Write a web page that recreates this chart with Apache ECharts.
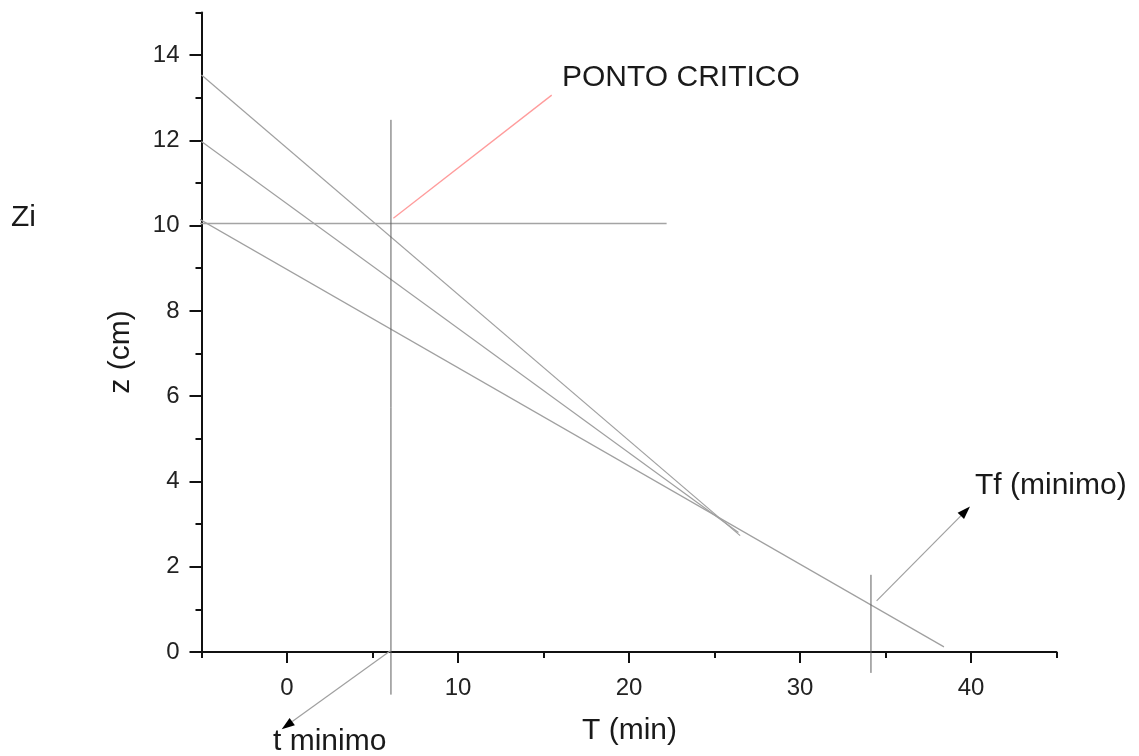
<!DOCTYPE html>
<html><head><meta charset="utf-8">
<script src="https://cdn.jsdelivr.net/npm/echarts@6/dist/echarts.min.js"></script>
<style>html,body{margin:0;padding:0;background:#fff}#c{width:1139px;height:756px}</style>
</head><body><div id="c"></div>
<script>
// tick values
const xMajorTicks = [0, 10, 20, 30, 40];
const xMinorTicks = [-5, 5, 15, 25, 35, 45];
const yMajorTicks = [0, 2, 4, 6, 8, 10, 12, 14];
const yMinorTicks = [1, 3, 5, 7, 9, 11, 13, 15];

// straight lines (T in min, z in cm), start and end
const line1T = [-5, 26.5];     const line1Z = [13.53, 2.73];
const line2T = [-5, 26.4];     const line2Z = [11.97, 2.80];
const line3T = [-5.85, 38.42]; const line3Z = [10.32, 0.12];
const ziT = [-11.5, 22.2];     const ziZ = [10.05, 10.05];
const tMinT = [6.08, 6.08];    const tMinZ = [12.48, -1.0];
const tfT = [34.15, 34.15];    const tfZ = [1.81, -0.49];
const critT = [6.22, 15.48];   const critZ = [10.17, 13.06];

// arrows: [T start, z start, T end, z end]
const arrowTmin = [6.05, 0.03, -0.31, -1.81];
const arrowTf = [34.48, 1.20, 39.94, 3.41];

const FONT = "'Liberation Sans', Arial, sans-serif";
const pairs = (T, Z) => T.map((t, i) => [t, Z[i]]);
const seg = (T, Z, color, width) => ({
  type: 'line', data: pairs(T, Z), clip: false, showSymbol: false, silent: true,
  animation: false, lineStyle: { color: color, width: width }, z: 2
});

const chart = echarts.init(document.getElementById('c'), null, { renderer: 'canvas' });
const axisCommon = {
  type: 'value', splitLine: { show: false }
};
const txt = (s, x, y) => ({ type: 'text', x: x, y: y, style: { text: s, font: '30px ' + FONT, fill: '#1a1a1a', verticalAlign: 'middle' } });
chart.setOption({
  animation: false,
  backgroundColor: '#fff',
  grid: { left: 201.5, width: 855, top: 12.4, height: 639.6, containLabel: false, outerBoundsMode: 'none' },
  xAxis: [
    Object.assign({}, axisCommon, {
      min: -5, max: 45, position: 'bottom',
      axisLine: { show: true, onZero: false, lineStyle: { color: '#111', width: 2 } },
      axisTick: { show: true, customValues: xMajorTicks, length: 11, lineStyle: { color: '#111', width: 2 } },
      axisLabel: { show: true, customValues: xMajorTicks, margin: 24, fontSize: 24, color: '#222', fontFamily: FONT }
    }),
    Object.assign({}, axisCommon, {
      min: -5, max: 45, position: 'bottom',
      axisLine: { show: false, onZero: false },
      axisTick: { show: true, customValues: xMinorTicks, length: 6, lineStyle: { color: '#111', width: 2 } },
      axisLabel: { show: false }
    })
  ],
  yAxis: [
    Object.assign({}, axisCommon, {
      min: 0, max: 15, position: 'left',
      axisLine: { show: true, onZero: false, lineStyle: { color: '#111', width: 2 } },
      axisTick: { show: true, customValues: yMajorTicks, length: 12, lineStyle: { color: '#111', width: 2 } },
      axisLabel: { show: true, customValues: yMajorTicks, margin: 22, fontSize: 24, color: '#222', fontFamily: FONT }
    }),
    Object.assign({}, axisCommon, {
      min: 0, max: 15, position: 'left',
      axisLine: { show: false, onZero: false },
      axisTick: { show: true, customValues: yMinorTicks, length: 6, lineStyle: { color: '#111', width: 2 } },
      axisLabel: { show: false }
    })
  ],
  series: [
    seg(line1T, line1Z, '#a0a0a0', 1.2),
    seg(line2T, line2Z, '#a0a0a0', 1.2),
    seg(line3T, line3Z, '#a0a0a0', 1.2),
    seg(ziT, ziZ, '#a4a4a4', 1.5),
    seg(tMinT, tMinZ, '#5e5e5e', 1),
    seg(tfT, tfZ, '#5e5e5e', 1),
    seg(critT, critZ, '#ff9c9c', 1.3),
    {
      type: 'custom', clip: false, silent: true, animation: false, z: 3,
      data: [arrowTmin, arrowTf],
      encode: { x: [0, 2], y: [1, 3] },
      renderItem: function (params, api) {
        const p1 = api.coord([api.value(0), api.value(1)]);
        const p2 = api.coord([api.value(2), api.value(3)]);
        const dx = p2[0] - p1[0], dy = p2[1] - p1[1];
        const L = Math.hypot(dx, dy); const ux = dx / L, uy = dy / L;
        const hl = 13, hw = 4.5;
        const bx = p2[0] - ux * hl, by = p2[1] - uy * hl;
        return {
          type: 'group', children: [
            { type: 'line', shape: { x1: p1[0], y1: p1[1], x2: bx, y2: by }, style: { stroke: '#a0a0a0', lineWidth: 1.2 } },
            { type: 'polygon', shape: { points: [[p2[0], p2[1]], [bx - uy * hw, by + ux * hw], [bx + uy * hw, by - ux * hw]] }, style: { fill: '#000' } }
          ]
        };
      }
    }
  ],
  graphic: [
    txt('PONTO CRITICO', 562, 78),
    txt('Zi', 11, 218),
    txt('Tf (minimo)', 975, 486),
    txt('t minimo', 273, 742),
    txt('T (min)', 582, 731),
    { type: 'text', x: 121, y: 352, rotation: Math.PI / 2, style: { text: 'z (cm)', font: '30px ' + FONT, fill: '#1a1a1a', align: 'center', verticalAlign: 'middle' } }
  ]
});
</script>
</body></html>
